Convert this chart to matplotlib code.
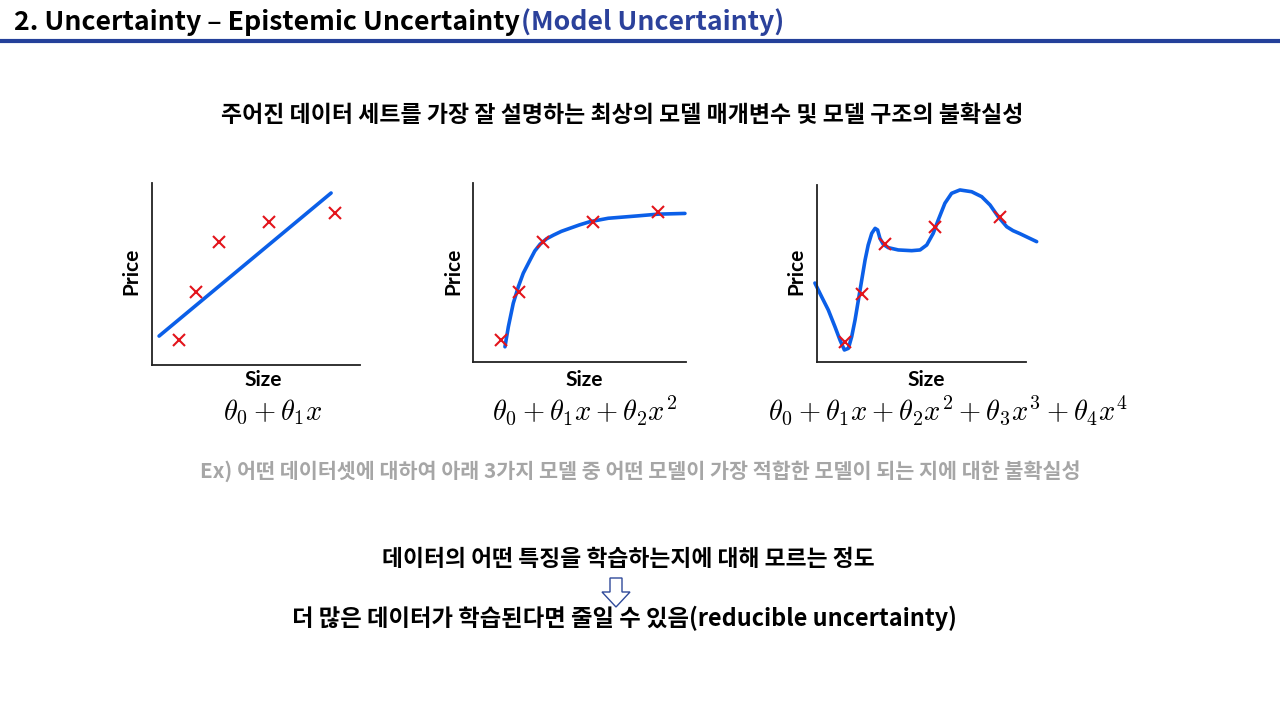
import matplotlib.pyplot as plt
import matplotlib.patches as mpatches

plt.rcParams["font.family"] = ["Noto Sans CJK KR", "DejaVu Sans"]
plt.rcParams["mathtext.fontset"] = "cm"

# scatter points (size, price) for the three fits
pts1_x = [1.30, 2.12, 3.22, 5.63, 8.80]
pts1_y = [1.37, 4.01, 6.76, 7.86, 8.35]
pts2_x = [1.31, 2.16, 3.29, 5.63, 8.69]
pts2_y = [1.23, 3.91, 6.70, 7.82, 8.38]
pts3_x = [1.34, 2.15, 3.25, 5.65, 8.76]
pts3_y = [1.15, 3.84, 6.65, 7.63, 8.19]

# fitted curves
fit1_x = [0.34, 8.61]
fit1_y = [1.59, 9.45]
fit2_x = [1.50, 1.66, 1.89, 2.13, 2.36, 2.68, 2.90, 3.15, 3.45, 3.78, 4.15,
          4.55, 5.00, 5.49, 6.35, 7.70, 8.69, 9.95]
fit2_y = [0.85, 1.97, 3.28, 4.21, 4.96, 5.70, 6.20, 6.58, 6.88, 7.09, 7.30,
          7.47, 7.66, 7.84, 8.03, 8.16, 8.26, 8.30]
fit3_x = [-0.10, 0.22, 0.54, 0.86, 1.10, 1.31, 1.50, 1.66, 1.82, 1.98, 2.14,
          2.30, 2.45, 2.62, 2.78, 2.90, 3.01, 3.17, 3.41, 3.89, 4.53, 4.93,
          5.25, 5.56, 5.80, 6.12, 6.44, 6.84, 7.40, 7.88, 8.28, 8.67, 9.08,
          9.38, 9.71, 10.10, 10.51]
fit3_y = [4.46, 3.69, 2.94, 1.99, 1.24, 0.68, 0.77, 1.43, 2.37, 3.50, 4.63,
          5.76, 6.61, 7.27, 7.55, 7.46, 6.99, 6.65, 6.46, 6.33, 6.29, 6.33,
          6.61, 7.27, 8.02, 8.97, 9.53, 9.72, 9.62, 9.34, 8.87, 8.21, 7.64,
          7.42, 7.25, 7.03, 6.80]

formulas = [r"$\theta_0 + \theta_1 x$",
            r"$\theta_0 + \theta_1 x + \theta_2 x^2$",
            r"$\theta_0 + \theta_1 x + \theta_2 x^2 + \theta_3 x^3 + \theta_4 x^4$"]

fig = plt.figure(figsize=(12.8, 7.2), dpi=100)
W, H = 1280, 720

# overlay axes in pixel coords for slide text
ax0 = fig.add_axes([0, 0, 1, 1])
ax0.set_xlim(0, W)
ax0.set_ylim(H, 0)
ax0.axis("off")

t1 = ax0.text(14, 22, "2. Uncertainty – Epistemic Uncertainty", fontsize=19.2,
              fontweight="bold", va="center", ha="left", color="black")
fig.canvas.draw()
x_end = t1.get_window_extent().x1
ax0.text(x_end + 1, 22, "(Model Uncertainty)", fontsize=19.2, fontweight="bold",
         va="center", ha="left", color="#2b419b")
ax0.plot([0, W], [41, 41], color="#24409a", lw=3, solid_capstyle="butt")

ax0.text(622, 116, "주어진 데이터 세트를 가장 잘 설명하는 최상의 모델 매개변수 및 모델 구조의 불확실성",
         fontsize=16.5, fontweight="bold", ha="center", va="center")
ax0.text(640, 471, "Ex) 어떤 데이터셋에 대하여 아래 3가지 모델 중 어떤 모델이 가장 적합한 모델이 되는 지에 대한 불확실성",
         fontsize=14.9, fontweight="bold", ha="center", va="center", color="#a6a6a6")
ax0.text(628, 560, "데이터의 어떤 특징을 학습하는지에 대해 모르는 정도",
         fontsize=16.4, fontweight="bold", ha="center", va="center")
ax0.text(624, 618, "더 많은 데이터가 학습된다면 줄일 수 있음(reducible uncertainty)",
         fontsize=16.8, fontweight="bold", ha="center", va="center")
ax0.add_patch(mpatches.FancyArrow(616, 578, 0, 29, width=12, head_width=28,
                                  head_length=15, length_includes_head=True,
                                  fc="white", ec="#2f4a9a", lw=1))

# plot boxes in pixels: left, top, right, bottom
boxes = [(152, 183, 360, 365), (473, 183, 686, 362), (817, 185, 1026, 362)]
size_x = [263, 584, 926]
price_x = [131, 453, 796]
formula_x = [273, 585, 948]
pts = [(pts1_x, pts1_y), (pts2_x, pts2_y), (pts3_x, pts3_y)]
fits = [(fit1_x, fit1_y), (fit2_x, fit2_y), (fit3_x, fit3_y)]

for i, (l, t, r, b) in enumerate(boxes):
    ax = fig.add_axes([l / W, (H - b) / H, (r - l) / W, (b - t) / H])
    ax.patch.set_alpha(0)
    ax.set_xlim(0, 10)
    ax.set_ylim(0, 10)
    for s in ["top", "right"]:
        ax.spines[s].set_visible(False)
    for s in ["left", "bottom"]:
        ax.spines[s].set_linewidth(1.3)
        ax.spines[s].set_color("#222222")
    ax.set_xticks([])
    ax.set_yticks([])
    ax.plot(fits[i][0], fits[i][1], color="#0b5fe8", lw=2.6, clip_on=False,
            solid_capstyle="round", solid_joinstyle="round")
    ax.plot(pts[i][0], pts[i][1], "x", color="#e3141b", ms=8, mew=1.5,
            clip_on=False)

    ax0.text(size_x[i], 380, "Size", fontsize=15, fontweight="bold",
             family="Lato", ha="center", va="center")
    ax0.text(price_x[i], 271, "Price", fontsize=15, fontweight="bold",
             family="Lato", ha="center", va="center", rotation=90)
    ax0.text(formula_x[i], 412, formulas[i], fontsize=20.5, ha="center",
             va="center")

fig.savefig("out.png", dpi=100)
